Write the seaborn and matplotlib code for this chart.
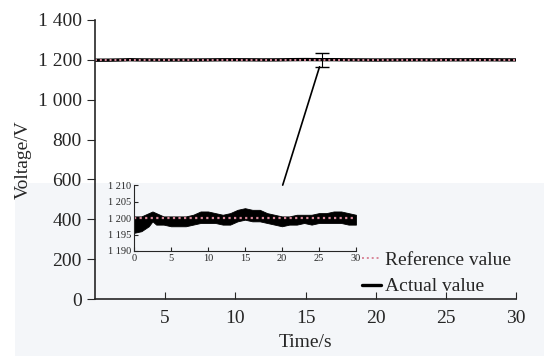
import numpy as np
import pandas as pd
import seaborn as sns
from matplotlib import pyplot as plt
from matplotlib.patches import Rectangle, ConnectionPatch
from matplotlib.ticker import FuncFormatter

time_s = [0, 1, 2, 2.5, 3, 4, 5, 6, 7, 8, 9, 10, 11, 12, 13, 14, 15, 16, 17, 18,
          19, 20, 21, 22, 23, 24, 25, 26, 27, 28, 29, 30]
v_low = [1195.5, 1196, 1197.5, 1199, 1198, 1198, 1197.5, 1197.5, 1197.5, 1198,
         1198.5, 1198.5, 1198.5, 1198, 1198, 1199, 1199.5, 1199, 1199, 1198.5,
         1198, 1197.5, 1198, 1198, 1198.5, 1198, 1198.5, 1198.5, 1198.5, 1198.5,
         1198, 1198]
v_high = [1200.5, 1200.5, 1201.5, 1202, 1201.5, 1200.5, 1200.5, 1200.5, 1200.5, 1201,
          1202, 1202, 1201.5, 1201, 1201.5, 1202.5, 1203, 1202.5, 1202.5, 1201.5,
          1201, 1200.5, 1200.5, 1201, 1201, 1201, 1201.5, 1201.5, 1202, 1202,
          1201.5, 1201]
reference_v = 1200

# zoom marker on the main plot
zoom_t = 16.2
zoom_lo, zoom_hi = 1165, 1235

main_yticks = [0, 200, 400, 600, 800, 1000, 1200, 1400]
main_xticks = [5, 10, 15, 20, 25, 30]
inset_yticks = [1190, 1195, 1200, 1205, 1210]
inset_xticks = [0, 5, 10, 15, 20, 25, 30]

sns.set_style("ticks")
plt.rcParams["font.family"] = ["Liberation Serif", "DejaVu Serif"]

df = pd.DataFrame({"time": time_s, "low": v_low, "high": v_high})
df["actual"] = (df["low"] + df["high"]) / 2
df["reference"] = reference_v

ref_color = "#d9879a"
space_fmt = FuncFormatter(lambda v, p: f"{int(v):,}".replace(",", " "))

fig = plt.figure(figsize=(5.44, 3.56), dpi=100)
fig.patch.set_facecolor("white")
# faint scan tint in the lower part of the picture
fig.patches.append(Rectangle((15 / 544, 0), 1, 0.486, transform=fig.transFigure,
                             facecolor="#f4f6f9", edgecolor="none", zorder=-5))

ax = fig.add_axes([0.1746, 0.160, 0.774, 0.784])
ax.patch.set_alpha(0)
sns.lineplot(data=df, x="time", y="actual", ax=ax, color="black", linewidth=2.4,
             label="Actual value")
sns.lineplot(data=df, x="time", y="reference", ax=ax, color=ref_color, linewidth=1.4,
             linestyle=(0, (1, 1.5)), label="Reference value")
ax.errorbar([zoom_t], [(zoom_lo + zoom_hi) / 2], yerr=[[(zoom_hi - zoom_lo) / 2]],
            fmt="none", ecolor="black", elinewidth=0.8, capsize=5, capthick=1)
ax.set_xlim(0, 30)
ax.set_ylim(0, 1400)
ax.set_xticks(main_xticks)
ax.set_yticks(main_yticks)
ax.yaxis.set_major_formatter(space_fmt)
ax.tick_params(axis="x", direction="in", length=5, labelsize=14, pad=8)
ax.tick_params(axis="y", direction="out", length=6, labelsize=14)
ax.set_xlabel("Time/s", fontsize=14, labelpad=5)
ax.set_ylabel("Voltage/V", fontsize=14)
sns.despine(ax=ax)
for s in ["left", "bottom"]:
    ax.spines[s].set_linewidth(1.2)

handles, labels = ax.get_legend_handles_labels()
ax.legend(handles[::-1], labels[::-1], loc="lower right", bbox_to_anchor=(1.03, -0.05),
          frameon=False, fontsize=14, handlelength=1.0, handletextpad=0.2,
          labelspacing=0.45)

ins = fig.add_axes([0.2463, 0.295, 0.408, 0.185])
ins.patch.set_alpha(0)
ins.fill_between(df["time"], df["low"], df["high"], color="black", linewidth=0.6,
                 edgecolor="black")
sns.lineplot(data=df, x="time", y="reference", ax=ins, color=ref_color, linewidth=1.6,
             linestyle=(0, (1, 1.5)))
ins.set_xlim(0, 30)
ins.set_ylim(1190, 1210)
ins.set_xticks(inset_xticks)
ins.set_yticks(inset_yticks)
ins.yaxis.set_major_formatter(space_fmt)
ins.tick_params(direction="in", length=3, labelsize=7.5, pad=2)
ins.set_xlabel("")
ins.set_ylabel("")
sns.despine(ax=ins)

# line linking the inset to the zoom marker
con = ConnectionPatch(xyA=(20.1, 1210), coordsA=ins.transData,
                      xyB=(zoom_t - 0.2, zoom_lo), coordsB=ax.transData,
                      color="black", linewidth=1.2)
fig.add_artist(con)

fig.savefig("out.png", dpi=100)
